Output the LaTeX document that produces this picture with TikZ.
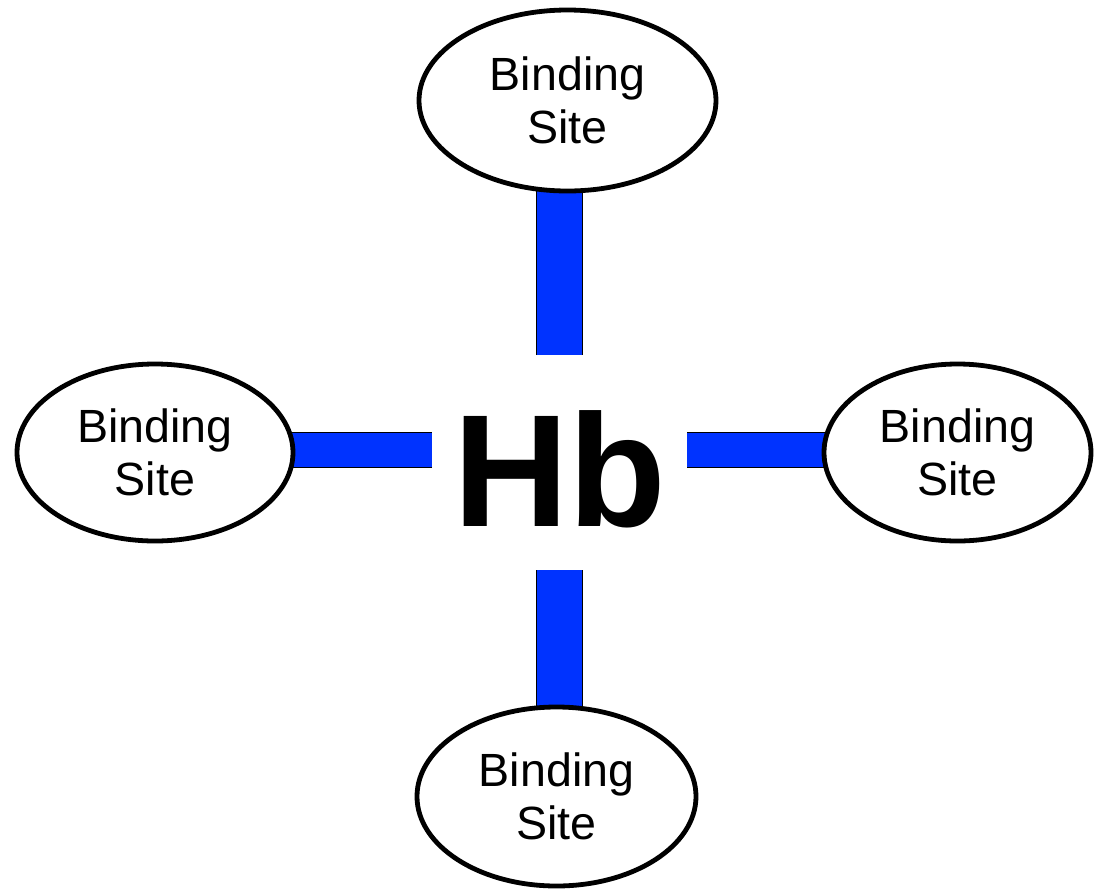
\documentclass[tikz,border=0pt]{standalone}
\usepackage{fontspec}
\setmainfont{Liberation Sans}
\usetikzlibrary{shapes.geometric,backgrounds}
\definecolor{barblue}{RGB}{0,51,255}
\begin{document}
\begin{tikzpicture}[x=0.5pt,y=-0.5pt,
  site/.style={ellipse,draw,line width=2.4pt,fill=white,inner sep=0pt,
    align=center,font=\fontsize{23.3}{26.8}\selectfont},
  vbar/.style={draw=black,line width=0.5pt,double=barblue,double distance=22.5pt},
  hbar/.style={draw=black,line width=0.5pt,double=barblue,double distance=17pt}]
\useasboundingbox (0,0) rectangle (1094,890);

% central label
\node[font=\fontsize{80}{80}\selectfont\bfseries,anchor=base,inner sep=0pt]
  (hb) at (560,526) {Hb};

% the four binding sites
\node[site,minimum width=148.5pt,minimum height=90.5pt] (top) at (567.5,100.5) {Binding\\Site};
\node[site,minimum width=138pt,minimum height=88.5pt] (left) at (155,452.5) {Binding\\Site};
\node[site,minimum width=133.5pt,minimum height=88.5pt] (right) at (957.5,452.5) {Binding\\Site};
\node[site,minimum width=139.5pt,minimum height=89.5pt] (bottom) at (556.5,796.5) {Binding\\Site};

% inner ends of the bars, short of the label
\coordinate (tEnd) at (559.5,355);
\coordinate (bEnd) at (559.5,570);
\coordinate (lEnd) at (432,450);
\coordinate (rEnd) at (687,450);

% bars run under the sites, which hide their outer ends
\begin{scope}[on background layer]
  \draw[vbar] (tEnd) -- (tEnd |- top.center);
  \draw[vbar] (bEnd) -- (bEnd |- bottom.center);
  \draw[hbar] (lEnd) -- (lEnd -| left.center);
  \draw[hbar] (rEnd) -- (rEnd -| right.center);
\end{scope}
\end{tikzpicture}
\end{document}
